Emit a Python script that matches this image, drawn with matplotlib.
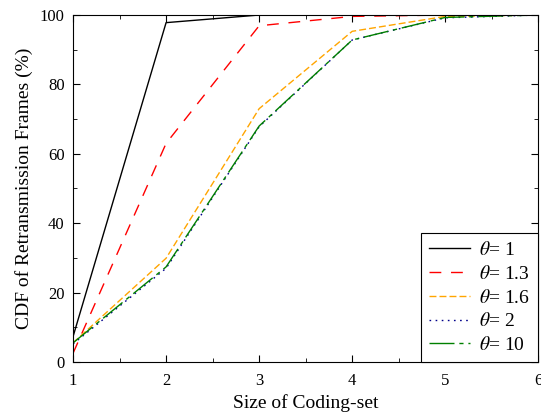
import numpy as np
import matplotlib.pyplot as plt
from matplotlib.ticker import MultipleLocator

plt.rcParams['font.family'] = ['Liberation Serif', 'DejaVu Serif']
plt.rcParams['mathtext.fontset'] = 'stix'

set_size = [1, 2, 3, 4, 5, 6]
cdf_theta_1 = [7.3, 97.8, 100, 100, 100, 100]
cdf_theta_13 = [2.5, 63.0, 96.9, 99.6, 100, 100]
cdf_theta_16 = [5.5, 29.9, 73.0, 95.3, 99.6, 100]
cdf_theta_2 = [5.2, 27.0, 67.8, 92.8, 99.2, 100]
cdf_theta_10 = [5.5, 27.4, 68.0, 92.8, 99.3, 100]

series = [
    (cdf_theta_1, '1', 'black', '-'),
    (cdf_theta_13, '1.3', 'red', (0, (8.5, 7))),
    (cdf_theta_16, '1.6', 'orange', (0, (5, 2.2))),
    (cdf_theta_2, '2', 'darkblue', (0, (1.2, 3.2))),
    (cdf_theta_10, '10', 'green', (0, (18, 3.5, 3, 3.5))),
]

fig = plt.figure(figsize=(5.41, 4.17), dpi=100)
ax = fig.add_axes([0.135, 0.132, 0.86, 0.832])

for y, name, color, ls in series:
    ax.plot(set_size, y, color=color, linestyle=ls, linewidth=1.0,
            label=r'$\theta$= ' + name)

ax.set_xlim(1, 6)
ax.set_ylim(0, 100)
ax.xaxis.set_major_locator(MultipleLocator(1))
ax.xaxis.set_minor_locator(MultipleLocator(0.5))
ax.yaxis.set_major_locator(MultipleLocator(20))
ax.yaxis.set_minor_locator(MultipleLocator(10))
ax.tick_params(which='both', direction='in', top=True, right=True,
               labelsize=12)
ax.tick_params(axis='x', pad=8)
ax.tick_params(axis='y', pad=6)
ax.tick_params(which='major', length=5)
ax.tick_params(which='minor', length=3)

ax.set_xlabel('Size of Coding-set', fontsize=14, labelpad=4)
ax.set_ylabel('CDF of Retransmission Frames (%)', fontsize=14, labelpad=5)

leg = ax.legend(loc='lower right', fontsize=14, fancybox=False, framealpha=1,
                edgecolor='black', borderaxespad=0, handlelength=2.1,
                handletextpad=0.5, labelspacing=0.3, borderpad=0.4)
leg.get_frame().set_linewidth(0.8)

fig.savefig('out.png', dpi=100)
